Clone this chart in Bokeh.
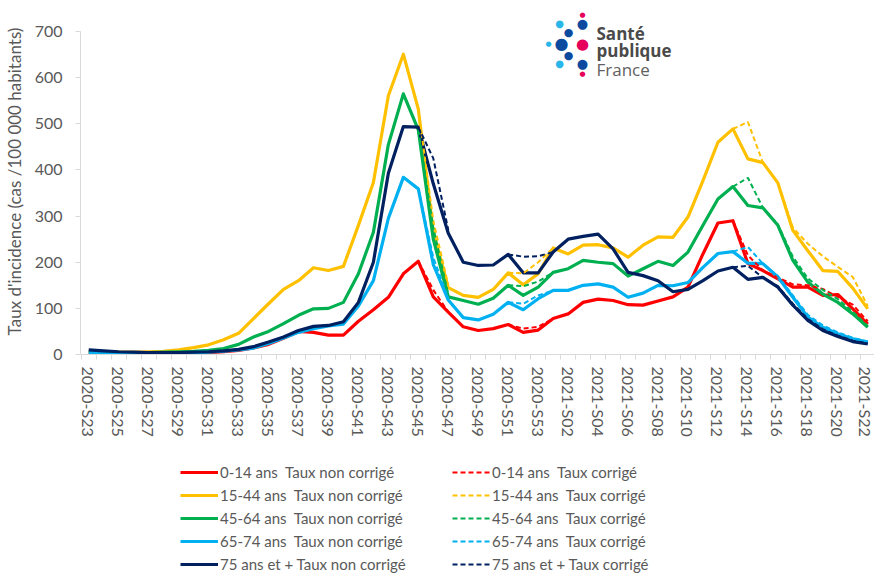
import math
from bokeh.plotting import figure
from bokeh.layouts import column
from bokeh.models import Range1d, FixedTicker, Legend, LegendItem, Label
from bokeh.embed import file_html
from bokeh.resources import INLINE

NaN = float("nan")

weeks = [f"2020-S{w:02d}" for w in range(23, 54)] + [f"2021-S{w:02d}" for w in range(1, 23)]
xs = list(range(len(weeks)))
y_ticks = [0, 100, 200, 300, 400, 500, 600, 700]

age_0_14 = [3, 3, 2, 2, 2, 2, 2, 3, 4, 6, 9, 14, 22, 35, 50, 48, 42, 42, 72, 97, 124, 175, 202, 125, 92, 60,
            52, 56, 65, 48, 53, 78, 88, 113, 120, 117, 108, 107, 116, 125, 146, 218, 285, 290, 197, 182,
            164, 146, 146, 128, 130, 99, 66]
age_15_44 = [7, 6, 5, 5, 6, 7, 10, 15, 21, 32, 46, 78, 110, 141, 160, 188, 182, 191, 280, 373, 561, 651, 532,
             265, 145, 128, 124, 141, 177, 151, 175, 231, 218, 237, 238, 231, 211, 237, 255, 254, 298, 377,
             460, 489, 424, 416, 372, 269, 225, 182, 180, 144, 99]
age_45_64 = [6, 5, 4, 4, 4, 5, 6, 7, 9, 13, 22, 38, 50, 67, 85, 99, 100, 113, 175, 265, 455, 565, 487, 250,
             125, 117, 109, 122, 150, 128, 146, 178, 186, 204, 200, 197, 170, 186, 202, 193, 222, 280, 337,
             364, 323, 318, 280, 204, 157, 131, 113, 88, 59]
age_65_74 = [4, 4, 3, 3, 3, 3, 3, 4, 5, 7, 10, 14, 24, 36, 48, 56, 62, 66, 105, 160, 295, 384, 359, 195, 118,
             80, 75, 87, 113, 97, 121, 139, 139, 150, 153, 146, 124, 133, 150, 149, 156, 189, 219, 223, 198,
             197, 168, 124, 81, 59, 45, 34, 27]
age_75_plus = [10, 8, 6, 5, 4, 4, 4, 5, 6, 8, 11, 17, 27, 38, 52, 61, 63, 71, 113, 200, 393, 494, 493, 370,
               263, 200, 193, 194, 217, 177, 177, 222, 250, 256, 261, 229, 178, 171, 160, 136, 141, 160, 181,
               189, 163, 167, 146, 107, 74, 52, 39, 28, 23]

N = NaN
corr_0_14 = [N] * 22 + [202, 140, 92] + [N] * 3 + [65, 56, 60, 78] + [N] * 11 + [290, 215, 182, 167, 152,
                                                                                150, 142, 125, 108, 72]
corr_15_44 = [N] * 22 + [532, 290, 150] + [N] * 3 + [177, 176, 200, 231] + [N] * 11 + [489, 504, 416, 372,
                                                                                      275, 240, 213, 190,
                                                                                      168, 105]
corr_45_64 = [N] * 22 + [487, 275, 130] + [N] * 3 + [150, 148, 158, 178] + [N] * 11 + [364, 383, 318, 282,
                                                                                      212, 165, 140, 120,
                                                                                      93, 62]
corr_65_74 = [N] * 22 + [359, 210, 122] + [N] * 3 + [113, 110, 128, 139] + [N] * 11 + [223, 233, 197, 170,
                                                                                      128, 86, 63, 48, 36,
                                                                                      28]
corr_75_plus = [N] * 22 + [493, 425, 270] + [N] * 3 + [217, 212, 213, 222] + [N] * 11 + [189, 192, 167, 148,
                                                                                        110, 77, 55, 41,
                                                                                        30, 24]

groups = ["0-14 ans ", "15-44 ans ", "45-64 ans ", "65-74 ans ", "75 ans et +"]
colors = ["#FF0000", "#FFC000", "#00B050", "#00B0F0", "#002060"]
raw = [age_0_14, age_15_44, age_45_64, age_65_74, age_75_plus]
corr = [corr_0_14, corr_15_44, corr_45_64, corr_65_74, corr_75_plus]

FONT = "Lato"
GREY = "#595959"
AXIS = "#d9d9d9"

# main chart: frame x 79..874, y 8..354 ; value 700 at y=31
p = figure(width=874, height=440, output_backend="svg", toolbar_location=None,
           x_range=Range1d(-0.55, 52.45), y_range=Range1d(0, 750),
           min_border_left=79, min_border_right=0, min_border_top=8, min_border_bottom=86)
p.outline_line_color = None
p.xgrid.visible = False
p.ygrid.visible = False
p.background_fill_color = "white"

# y axis
p.yaxis.ticker = FixedTicker(ticks=y_ticks)
p.yaxis.bounds = (0, 700)
p.yaxis.axis_line_color = AXIS
p.yaxis.major_tick_line_color = AXIS
p.yaxis.major_tick_out = 5
p.yaxis.major_tick_in = 0
p.yaxis.minor_tick_line_color = None
p.yaxis.major_label_text_font = FONT
p.yaxis.major_label_text_font_size = "16px"
p.yaxis.major_label_text_color = GREY
p.yaxis.major_label_standoff = 13
p.yaxis.axis_label = "Taux d'incidence (cas /100 000 habitants)"
p.yaxis.axis_label_text_font = FONT
p.yaxis.axis_label_text_font_size = "17px"
p.yaxis.axis_label_text_font_style = "normal"
p.yaxis.axis_label_text_color = GREY
p.yaxis.axis_label_standoff = 7

# x axis
p.xaxis.ticker = FixedTicker(ticks=list(range(0, len(weeks), 2)),
                             minor_ticks=[i - 0.5 for i in range(len(weeks) + 1)])
p.xaxis.major_label_overrides = {i: weeks[i] for i in range(0, len(weeks), 2)}
p.xaxis.major_label_orientation = "vertical"
p.xaxis.axis_line_color = AXIS
p.xaxis.major_tick_line_color = None
p.xaxis.major_tick_out = 0
p.xaxis.major_tick_in = 0
p.xaxis.minor_tick_line_color = AXIS
p.xaxis.minor_tick_out = 5
p.xaxis.minor_tick_in = 0
p.xaxis.major_label_text_font = FONT
p.xaxis.major_label_text_font_size = "16px"
p.xaxis.major_label_text_color = GREY
p.xaxis.major_label_standoff = 7

for c, r_vals in zip(colors, raw):
    p.line(xs, r_vals, line_color=c, line_width=3.2, line_join="round")
for c, c_vals in zip(colors, corr):
    p.line(xs, c_vals, line_color=c, line_width=2, line_dash="5 3")

# logo (Santé publique France) -- screen units relative to frame (x from 79, y up from 354)
def sx(ix):
    return ix - 79

def sy(iy):
    return 354 - iy

logo_dots = [(581, 14, 7, "#e6005c"), (581, 23, 13, "#0b4a9e"), (558, 23, 10, "#29b6e8"),
             (567, 32, 11, "#0b4a9e"), (547, 43, 7, "#29b6e8"), (560, 43, 16, "#0b4a9e"),
             (581, 43, 15, "#e6005c"), (567, 55, 11, "#0b4a9e"), (558, 63, 10, "#29b6e8"),
             (581, 63, 13, "#0b4a9e"), (581, 73, 7, "#e6005c")]
for dx, dy, fs, col in logo_dots:
    p.add_layout(Label(x=sx(dx), y=sy(dy), x_units="screen", y_units="screen", text="●",
                       text_font="DejaVu Sans", text_font_size=f"{fs}px", text_color=col,
                       text_align="center", text_baseline="middle"))
for txt, ty, style, col in [("Santé", 33, "bold", "#4a4a4a"), ("publique", 50, "bold", "#4a4a4a"),
                            ("France", 69, "normal", "#5f5f5f")]:
    p.add_layout(Label(x=sx(595), y=sy(ty), x_units="screen", y_units="screen", text=txt,
                       text_font="Open Sans", text_font_size="17px", text_font_style=style,
                       text_color=col, text_align="left", text_baseline="alphabetic"))

# legend panel below the chart
q = figure(width=874, height=136, output_backend="svg", toolbar_location=None,
           x_range=Range1d(1000, 1001), y_range=Range1d(0, 1),
           min_border_left=0, min_border_right=0, min_border_top=0, min_border_bottom=0)
q.axis.visible = False
q.xgrid.visible = False
q.ygrid.visible = False
q.outline_line_color = None

solid_items = []
dash_items = []
for g, c, r_vals in zip(groups, colors, raw):
    rs = q.line(xs, r_vals, line_color=c, line_width=3.2)
    solid_items.append(LegendItem(label=f"{g} Taux non corrigé", renderers=[rs]))
for g, c, c_vals in zip(groups, colors, corr):
    rd = q.line(xs, c_vals, line_color=c, line_width=2, line_dash="5 3")
    dash_items.append(LegendItem(label=f"{g} Taux corrigé", renderers=[rd]))

legend = Legend(items=solid_items + dash_items, ncols=2, orientation="vertical",
                location=(100, 1), margin=0, padding=3, spacing=0,
                label_text_font=FONT, label_text_font_size="15px", label_text_color=GREY,
                glyph_width=38, glyph_height=20, label_height=23, label_width=232,
                label_standoff=2, border_line_color=None, background_fill_alpha=0)
q.add_layout(legend, "center")

layout = column(p, q, spacing=0)
open("out.html", "w").write(file_html(layout, INLINE))
